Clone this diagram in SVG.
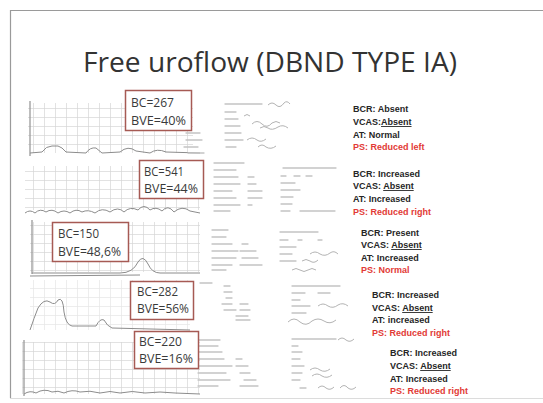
<svg xmlns="http://www.w3.org/2000/svg" width="543" height="403" viewBox="0 0 543 403">
<defs>
<pattern id="grid" width="11" height="9" patternUnits="userSpaceOnUse">
<path d="M0,0.5 H11 M0.5,0 V9" fill="none" stroke="#d6d6d6" stroke-width="0.7"/>
</pattern>
<filter id="soft" x="-5%" y="-5%" width="110%" height="110%"><feGaussianBlur stdDeviation="0.45"/></filter>
<style>
.frame{fill:none;stroke:#9a9a9a;stroke-width:1.2}
.title{font-family:"Open Sans","Liberation Sans",Arial,sans-serif;font-size:27px;fill:#333}
.box{fill:#ffffff;stroke:#a65a54;stroke-width:1.5}
.bl{font-family:"Open Sans","Liberation Sans",Arial,sans-serif;font-size:12.5px;fill:#3a3a3a}
.res{font-family:"Liberation Sans",Arial,sans-serif;font-size:9px;font-weight:bold;fill:#262626}
.red{fill:#e23a36}
.u{text-decoration:underline}
.curve{fill:none;stroke:#8c8c8c;stroke-width:1}
.axis{fill:none;stroke:#9a9a9a;stroke-width:1.3}
.frm{fill:none;stroke:#c4c4c4;stroke-width:1.3;stroke-linecap:round}
.hw{fill:none;stroke:#aaaaaa;stroke-width:0.9}
</style>
</defs>
<rect width="543" height="403" fill="#ffffff"/>
<path class="frame" d="M543,10.5 H10.5 V398"/>
<path d="M10,398.5 H543" stroke="#dcdcdc" stroke-width="1"/>
<text class="title" x="270" y="72" text-anchor="middle" textLength="374" lengthAdjust="spacingAndGlyphs">Free uroflow (DBND TYPE IA)</text>

<g id="scans" filter="url(#soft)">
<!-- chart 1 -->
<rect x="28" y="103" width="165" height="50" fill="url(#grid)"/>
<path class="axis" d="M30,101 V156"/>
<path class="curve" d="M30,153 L42,152 Q46,146 52,146 L58,146 Q62,147 66,152 L86,153 Q90,147 96,148 L102,153 L120,152 Q128,145 136,151 L150,153 Q157,148 166,152 L200,153"/>
<path class="frm" d="M186,133 H200 M186,140 H202 M184,147 H198 M188,153 H204"/>
<!-- chart 2 -->
<rect x="25" y="166" width="175" height="44" fill="url(#grid)"/>
<path class="curve" d="M25,213 Q30,209 35,213 Q40,208 46,212 Q52,208 58,213 Q64,209 70,213 Q76,208 82,212 Q88,209 95,213 Q102,207 110,212 Q118,206 124,212 Q130,206 138,210 Q144,203 150,210 Q156,206 162,211 Q168,204 174,212 Q182,205 190,211 L200,213"/>
<!-- chart 3 -->
<rect x="30" y="222" width="170" height="50" fill="url(#grid)"/>
<path class="axis" d="M32,220 V274"/>
<path class="curve" d="M32,273 L120,273 Q133,273 138,262 Q143,254 148,264 Q152,273 160,273 L200,273"/>
<path class="curve" d="M30,276 L140,275"/>
<!-- chart 4 -->
<rect x="30" y="280" width="160" height="50" fill="url(#grid)" opacity="0.6"/>
<path class="curve" d="M30,330 Q34,318 38,308 Q44,298 50,302 Q55,306 58,300 Q63,296 64,312 Q66,325 72,326 L96,326 Q100,318 104,320 Q107,326 112,328 L190,330"/>
<!-- chart 5 -->
<rect x="22" y="342" width="178" height="52" fill="url(#grid)"/>
<path class="axis" d="M24,340 V396"/>
<path class="curve" d="M24,394 Q30,390 36,393 Q44,388 52,392 Q58,390 64,393 Q72,389 80,392 Q90,390 100,393 Q110,390 120,393 Q132,390 145,393 Q160,391 175,393 L200,394"/>

<!-- forms -->
<path class="frm" d="M225,104 H262 M225,112 H236 M225,119 H238 M225,126 H240 M225,133 H241 M225,140 H243 M226,147 H236"/>
<path class="hw" d="M268,105 q4,-4 8,0 q4,4 8,-2 q3,-3 6,1 M244,116 q3,-3 6,0 M252,124 q5,-5 10,0 q5,5 10,-1 q4,-3 8,0 M260,128 q4,-3 8,0 q4,3 10,-1 q5,-3 10,1 M247,140 q5,-4 10,0 q4,3 9,-1 M258,147 q4,-4 8,0 q5,3 10,-1"/>
<path class="frm" d="M214,163 H244 M214,170 H236 M214,177 H238 M214,184 H240 M214,191 H232 M214,198 H236 M214,205 H240 M214,211 H230 M248,177 H254 M248,184 H256 M248,191 H262 M248,198 H262 M248,205 H252"/>
<path class="frm" d="M283,168 H336 M281,176 H286 M294,176 H300 M306,176 H312 M281,183 H295 M281,190 H300 M281,197 H293 M281,204 H292 M281,211 H290 M300,211 H335"/>
<path class="frm" d="M212,230 H228 M212,237 H226 M212,244 H232 M212,251 H238 M212,258 H236 M212,265 H232 M212,270 H226 M242,244 H248 M240,251 H256 M242,258 H258 M240,265 H262"/>
<path class="frm" d="M280,232 H318 M280,240 H288 M298,240 H302 M318,240 H322 M280,247 H296 M280,254 H292 M280,261 H296"/>
<path class="hw" d="M310,254 q5,-4 10,0 q5,3 10,-1 q4,-3 8,1 M302,261 q4,-3 8,0 q4,3 8,-1 M292,270 q4,-3 8,0 q4,3 8,0 q4,-3 8,0"/>
<path class="frm" d="M200,283 H212 M224,286 H230 M224,292 H232 M226,298 H232 M222,304 H232 M224,310 H236 M236,316 H248 M236,320 H250 M240,304 H248 M240,310 H250"/>
<path class="frm" d="M292,286 H340 M292,293 H305 M318,293 H330 M292,300 H300 M292,306 H310 M292,313 H306"/>
<path class="hw" d="M318,306 q5,-4 10,0 q5,3 10,-1 q5,-3 10,1 M288,322 q6,-6 12,0 q6,5 12,-1 q6,-4 12,0 q6,4 12,-1"/>
<path class="frm" d="M198,340 H220 M198,346 H218 M198,352 H222 M198,359 H224 M198,366 H232 M198,373 H226 M198,380 H230 M198,386 H218 M236,359 H242 M236,366 H248 M240,373 H250 M244,380 H256 M240,386 H258"/>
<path class="frm" d="M292,339 H336 M292,346 H298 M292,352 H302 M292,359 H300 M292,366 H304 M292,373 H302 M292,380 H300 M300,388 H306"/>
<path class="hw" d="M338,340 q4,-4 8,0 q4,3 8,-1 M310,370 q5,-4 10,0 q5,3 10,-1 M312,376 q5,-4 10,0 q5,3 10,-1 M318,388 q4,-4 8,0 q4,3 8,-1 M340,388 q4,-5 8,0 q4,3 8,-1"/>
</g>

<g id="node-bc267">
<rect class="box" x="125.5" y="90.5" width="66" height="40"/>
<text class="bl" x="131" y="107" textLength="43" lengthAdjust="spacingAndGlyphs">BC=267</text>
<text class="bl" x="131" y="125" textLength="55" lengthAdjust="spacingAndGlyphs">BVE=40%</text>
</g>
<g id="node-bc541">
<rect class="box" x="139.5" y="160.5" width="64" height="38"/>
<text class="bl" x="144" y="176" textLength="40" lengthAdjust="spacingAndGlyphs">BC=541</text>
<text class="bl" x="144" y="193" textLength="54" lengthAdjust="spacingAndGlyphs">BVE=44%</text>
</g>
<g id="node-bc150">
<rect class="box" x="52.5" y="222.5" width="76" height="39"/>
<text class="bl" x="58" y="238" textLength="41" lengthAdjust="spacingAndGlyphs">BC=150</text>
<text class="bl" x="58" y="256" textLength="63" lengthAdjust="spacingAndGlyphs">BVE=48,6%</text>
</g>
<g id="node-bc282">
<rect class="box" x="130.5" y="281.5" width="63" height="38"/>
<text class="bl" x="137" y="296" textLength="41" lengthAdjust="spacingAndGlyphs">BC=282</text>
<text class="bl" x="137" y="313" textLength="52" lengthAdjust="spacingAndGlyphs">BVE=56%</text>
</g>
<g id="node-bc220">
<rect class="box" x="134.5" y="331.5" width="64" height="37"/>
<text class="bl" x="139" y="346" textLength="43" lengthAdjust="spacingAndGlyphs">BC=220</text>
<text class="bl" x="139" y="363" textLength="54" lengthAdjust="spacingAndGlyphs">BVE=16%</text>
</g>

<g id="node-res1">
<text class="res" x="353" y="112">BCR: Absent</text>
<text class="res" x="353" y="125">VCAS:<tspan class="u">Absent</tspan></text>
<text class="res" x="353" y="138">AT: Normal</text>
<text class="res red" x="353" y="150">PS: Reduced left</text>
</g>
<g id="node-res2">
<text class="res" x="353" y="177">BCR: Increased</text>
<text class="res" x="353" y="189">VCAS: <tspan class="u">Absent</tspan></text>
<text class="res" x="353" y="202">AT: Increased</text>
<text class="res red" x="353" y="215">PS: Reduced right</text>
</g>
<g id="node-res3">
<text class="res" x="361" y="236">BCR: Present</text>
<text class="res" x="361" y="248">VCAS: <tspan class="u">Absent</tspan></text>
<text class="res" x="361" y="261">AT: Increased</text>
<text class="res red" x="361" y="273">PS: Normal</text>
</g>
<g id="node-res4">
<text class="res" x="372" y="298">BCR: Increased</text>
<text class="res" x="372" y="311">VCAS: <tspan class="u">Absent</tspan></text>
<text class="res" x="372" y="323">AT: increased</text>
<text class="res red" x="372" y="336">PS: Reduced right</text>
</g>
<g id="node-res5">
<text class="res" x="390" y="356">BCR: Increased</text>
<text class="res" x="390" y="369">VCAS: <tspan class="u">Absent</tspan></text>
<text class="res" x="390" y="382">AT: Increased</text>
<text class="res red" x="390" y="394">PS: Reduced right</text>
</g>
<g id="connectors"></g>
</svg>
